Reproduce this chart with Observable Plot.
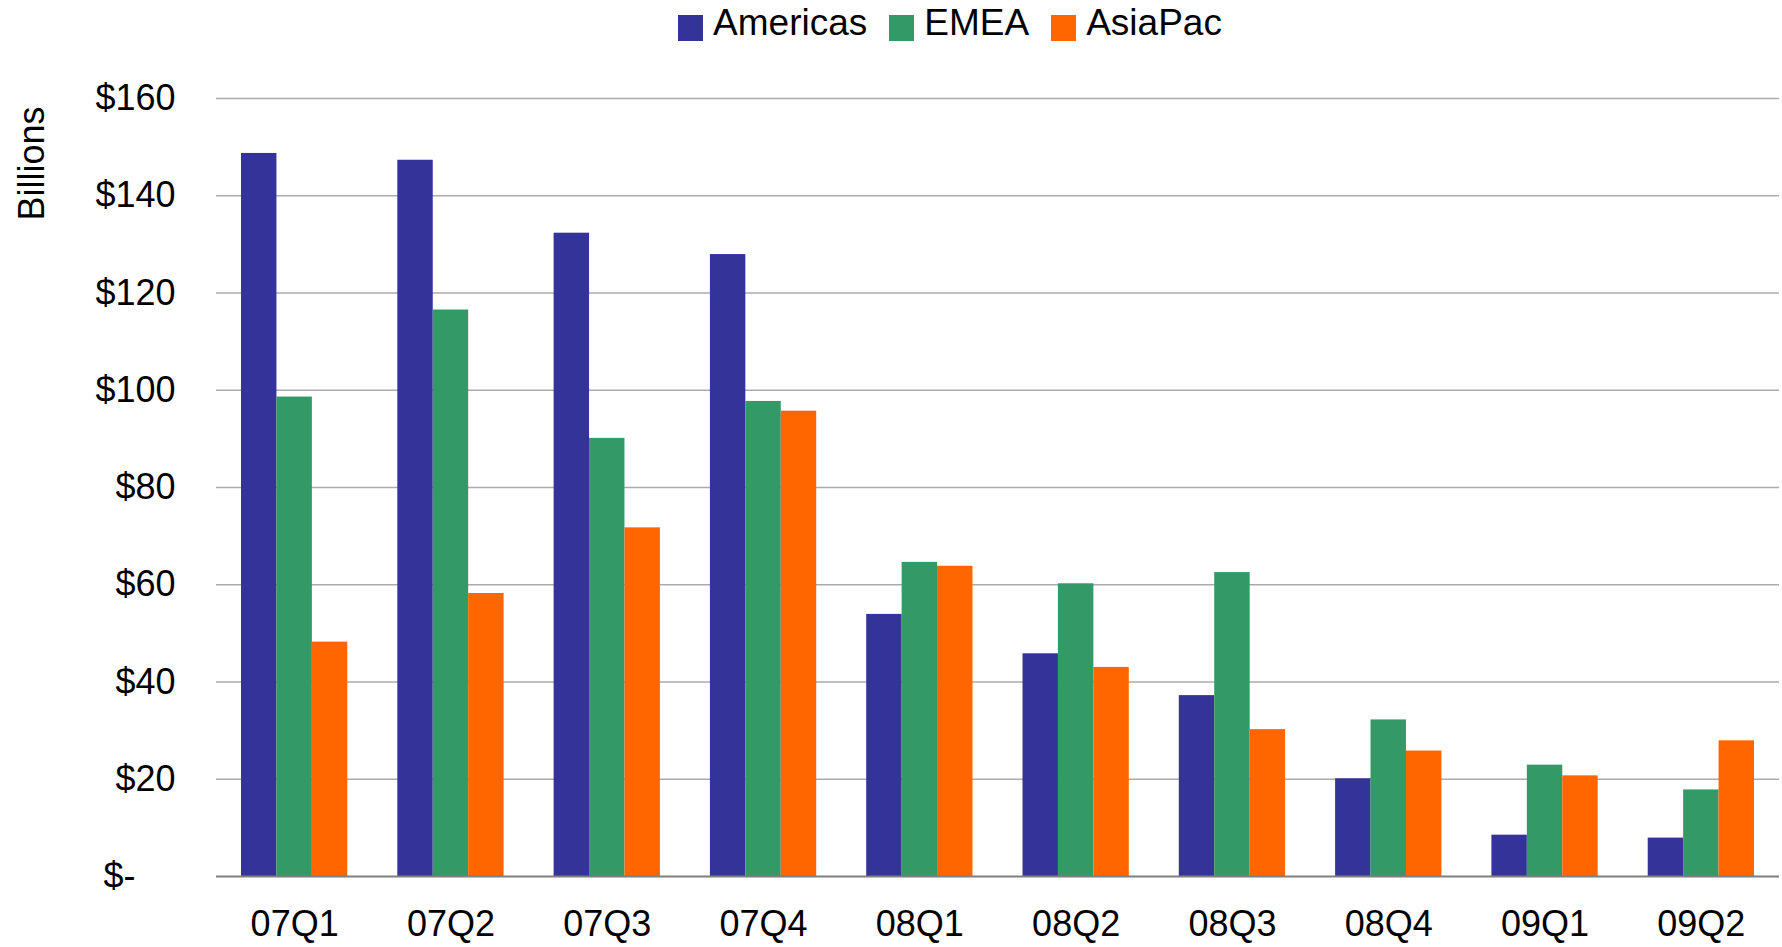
<!DOCTYPE html>
<html>
<head>
<meta charset="utf-8">
<script src="https://cdn.jsdelivr.net/npm/d3@7"></script>
<script src="https://cdn.jsdelivr.net/npm/@observablehq/plot@0.6"></script>
<style>
  html, body { margin: 0; padding: 0; background: #fff; }
  body { font-family: "Liberation Sans", Arial, sans-serif; color: #000; }
  #legend {
    width: 1782px; height: 46px; box-sizing: border-box;
    display: flex; justify-content: center; align-items: center;
    padding-left: 118px; font-size: 37px; line-height: 46px;
  }
  .item { display: flex; align-items: center; margin: 0 11px; }
  .swatch { width: 25px; height: 26px; margin-right: 10px; position: relative; top: 5px; }
</style>
</head>
<body>
<div id="legend"></div>
<div id="chart"></div>
<script>
// Quarterly totals by region, in billions of dollars
const quarters = ["07Q1", "07Q2", "07Q3", "07Q4", "08Q1", "08Q2", "08Q3", "08Q4", "09Q1", "09Q2"];
const regions = ["Americas", "EMEA", "AsiaPac"];
const regionColors = ["#333399", "#339966", "#FF6600"];
const americas = [148.7, 147.3, 132.3, 127.9, 53.9, 45.8, 37.2, 20.1, 8.5, 7.9];
const emea     = [98.6, 116.5, 90.1, 97.7, 64.6, 60.2, 62.5, 32.2, 22.9, 17.8];
const asiaPac  = [48.2, 58.2, 71.7, 95.7, 63.8, 43.0, 30.2, 25.8, 20.7, 27.9];
const yTicks = [0, 20, 40, 60, 80, 100, 120, 140, 160];

const series = [americas, emea, asiaPac];

// Each quarter occupies one unit on the x scale; its three bars share 68% of it.
const groupShare = 0.68;
const barShare = groupShare / regions.length;
const rows = quarters.flatMap((q, i) =>
  regions.map((r, j) => ({
    quarter: q,
    region: r,
    value: series[j][i],
    x1: i - groupShare / 2 + j * barShare,
    x2: i - groupShare / 2 + (j + 1) * barShare
  }))
);

// Legend
const legend = document.getElementById("legend");
regions.forEach((r, j) => {
  const item = document.createElement("div");
  item.className = "item";
  const sw = document.createElement("span");
  sw.className = "swatch";
  sw.style.background = regionColors[j];
  const label = document.createElement("span");
  label.textContent = r;
  item.append(sw, label);
  legend.append(item);
});

const font = "Liberation Sans, Arial, sans-serif";

const chart = Plot.plot({
  width: 1782,
  height: 901,
  marginTop: 52,
  marginBottom: 71,
  marginLeft: 216,
  marginRight: 3,
  style: { fontFamily: font, fontSize: "36px", color: "#000", background: "#fff" },
  x: { domain: [-0.5, quarters.length - 0.5] },
  y: { domain: [0, 160] },
  color: { domain: regions, range: regionColors },
  marks: [
    Plot.ruleY(yTicks.filter(d => d > 0), { stroke: "#ababab", strokeWidth: 1.5 }),
    Plot.rectY(rows, { x1: "x1", x2: "x2", y: "value", fill: "region" }),
    Plot.ruleY([0], { stroke: "#7f7f7f", strokeWidth: 2.2 }),
    Plot.axisY({
      ticks: yTicks,
      tickSize: 0,
      tickPadding: 41,
      label: null,
      fontSize: 36,
      tickFormat: d => (d === 0 ? "$-\u2007\u2007" : "$" + d)
    }),
    Plot.axisX({
      ticks: quarters.map((_, i) => i),
      tickSize: 0,
      tickPadding: 34,
      label: null,
      fontSize: 36,
      tickFormat: i => quarters[i]
    }),
    Plot.text(["Billions"], {
      frameAnchor: "top-left",
      rotate: -90,
      dx: -198,
      dy: 65,
      fontSize: 36,
      textAnchor: "middle",
      fill: "#000"
    })
  ]
});

document.getElementById("chart").append(chart);
</script>
</body>
</html>
